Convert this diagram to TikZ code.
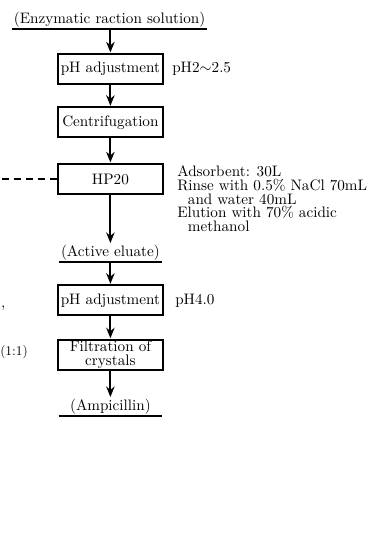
\documentclass[tikz,border=0pt]{standalone}
\usepackage{tikz}
\usetikzlibrary{arrows.meta}

\begin{document}
\begin{tikzpicture}[scale=1,
    font=\fontsize{10.8}{9.7}\selectfont,
    box/.style={draw, line width=1.3pt, minimum width=2.62cm, minimum height=0.75cm, inner sep=1pt, align=center},
    prod/.style={inner sep=1pt, minimum width=2.58cm},
    flow/.style={-{Stealth[length=7.5pt,width=6pt]}, line width=1.4pt, shorten >=0.5pt},
    uline/.style={line width=1.3pt},
    note/.style={anchor=west, inner sep=0pt}]

\useasboundingbox (0,0) rectangle (9.45,-13.85);

\node  [prod] (enz) at (2.74,-0.5){(Enzymatic raction solution)};
\node  [box] (adj1) at (2.76,-1.725){pH adjustment};
\node  [box] (cent) at (2.76,-3.06){Centrifugation};
\node  [box] (hp) at (2.76,-4.475){HP20};
\node  [prod] (elu) at (2.76,-6.325){(Active eluate)};
\node  [box] (adj2) at (2.76,-7.51){pH adjustment};
\node  [box] (filt) at (2.76,-8.875){Filtration of\\crystals};
\node  [prod] (amp) at (2.76,-10.175){(Ampicillin)};

\draw[uline] (enz.south west) -- (enz.south east);
\draw[uline] (elu.south west) -- (elu.south east);
\draw[uline] (amp.south west) -- (amp.south east);

\draw[flow] (enz.south -| adj1.north) -- (adj1.north);
\draw[flow] (adj1) -- (cent);
\draw[flow] (cent) -- (hp);
\draw[flow] (hp) -- (elu);
\draw[flow] (elu) -- (adj2);
\draw[flow] (adj2) -- (filt);
\draw[flow] (filt) -- (amp);

% feed from the left
\coordinate (feed) at (0.05,-4.475);
\draw[line width=1.3pt, dash pattern=on 5pt off 3.5pt] (feed) -- (hp);

\node  [note] (ph1) at (4.3,-1.725){pH2$\sim$2.5};
\node  [note] (ph2) at (4.375,-7.51){pH4.0};
\node  [note, anchor=north west, align=left] (cond) at (4.425,-4.14){Adsorbent: 30L\\
Rinse with 0.5\% NaCl 70mL\\
\hspace*{0.7em}and water 40mL\\
Elution with 70\% acidic\\
\hspace*{0.7em}methanol};

\node  [note] (comma) at (0.02,-7.7){,};
\node  [note, font=\fontsize{9.5}{9.7}\selectfont] (ratio) at (0,-8.8){(1:1)};
\end{tikzpicture}
\end{document}
